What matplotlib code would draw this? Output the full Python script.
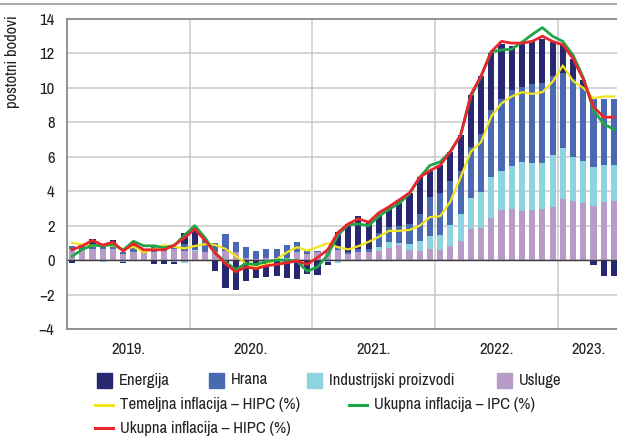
import numpy as np
import matplotlib
matplotlib.use('Agg')
import matplotlib.pyplot as plt
import matplotlib.font_manager as fm
from matplotlib.lines import Line2D
from matplotlib.patches import Rectangle

# pick a narrow font if one is installed
names = sorted({(f.name, f.stretch) for f in fm.fontManager.ttflist})
narrow = [n for n, s in names if 'Narrow' in n or 'Condensed' in n]
if narrow:
    plt.rcParams['font.family'] = [narrow[0], 'DejaVu Sans']
else:
    plt.rcParams['font.family'] = ['DejaVu Sans']
    plt.rcParams['font.stretch'] = 'condensed'

# Months Jan 2019 - Jun 2023
years = ['2019.', '2020.', '2021.', '2022.', '2023.']

# Contributions (percentage points)
usluge = [0.65, 0.6, 0.65, 0.65, 0.65, 0.35, 0.5, 0.4, 0.45, 0.55, 0.65, 0.55,
          0.55, 0.5, 0.5, 0.55, 0.45, 0.1, 0.05, 0.1, 0.1, 0.15, 0.45, 0.35,
          0.45, 0.4, 0.6, 0.35, 0.5, 0.5, 0.55, 0.7, 0.85, 0.6, 0.55, 0.65,
          0.6, 0.82, 1.1, 1.82, 1.85, 2.45, 2.92, 2.94, 2.88, 2.92, 2.94, 3.08,
          3.56, 3.45, 3.33, 3.13, 3.37, 3.44]
industrija = [0.0, -0.05, 0.0, -0.1, -0.05, -0.1, -0.05, 0.0, -0.05, 0.0, -0.1, -0.15,
              0.05, 0.0, 0.0, 0.0, 0.0, 0.0, 0.0, 0.0, 0.0, 0.0, 0.0, 0.0,
              0.0, -0.1, -0.15, 0.0, 0.0, 0.0, 0.2, 0.35, 0.15, 0.35, 0.55, 0.75,
              0.87, 1.2, 1.55, 1.8, 2.1, 2.4, 2.28, 2.5, 2.8, 2.7, 2.7, 3.0,
              2.96, 2.55, 2.4, 2.3, 2.15, 2.1]
hrana = [0.15, 0.2, 0.15, 0.2, 0.25, 0.15, 0.3, 0.15, 0.3, 0.2, 0.1, 0.4,
         0.3, 0.7, 0.5, 0.95, 0.6, 0.65, 0.5, 0.55, 0.55, 0.7, 0.6, 0.2,
         0.1, 0.1, 0.2, 0.15, 0.15, 0.15, 0.8, 0.85, 1.0, 1.15, 1.6, 2.25,
         2.45, 2.6, 2.55, 2.95, 3.4, 3.85, 4.15, 4.45, 4.4, 4.6, 4.65, 4.6,
         4.35, 4.5, 4.25, 3.9, 3.85, 3.8]
energija = [-0.15, 0.05, 0.45, 0.1, 0.25, -0.05, 0.05, 0.05, -0.2, -0.25, -0.1, 0.6,
            0.95, 0.05, -0.64, -1.64, -1.76, -1.2, -1.06, -1.0, -0.95, -1.05, -1.1, -0.8,
            -0.87, -0.2, 0.85, 1.6, 1.9, 1.6, 1.15, 1.2, 1.5, 1.8, 2.1, 1.55,
            1.6, 1.65, 2.05, 3.0, 3.35, 3.35, 3.2, 2.55, 2.5, 2.5, 2.55, 2.0,
            1.65, 1.2, 0.5, -0.3, -0.93, -0.93]

# Inflation rates (%)
temeljna_hipc = [1.0, 0.9, 0.83, 0.83, 0.85, 0.64, 0.77, 0.45, 0.64, 0.87, 0.77, 0.68,
                 0.82, 0.93, 0.88, 0.65, 0.25, -0.2, -0.4, -0.25, 0.05, 0.45, 0.75, 0.55,
                 0.75, 0.98, 0.75, 0.62, 0.81, 1.06, 1.35, 1.7, 1.7, 1.75, 2.0, 2.5,
                 2.55, 3.4, 4.8, 6.3, 6.85, 8.35, 9.1, 9.5, 9.75, 9.65, 9.75, 10.35,
                 11.3, 10.4, 10.0, 9.4, 9.5, 9.5]
ukupna_ipc = [0.22, 0.62, 0.87, 0.83, 0.92, 0.58, 1.1, 0.83, 0.83, 0.72, 0.85, 1.45,
              2.0, 1.3, 0.4, -0.1, -0.55, -0.2, -0.25, -0.08, 0.0, 0.0, -0.05, -0.65,
              -0.4, 0.3, 1.45, 2.05, 2.1, 2.0, 2.55, 2.95, 3.3, 3.85, 4.8, 5.5,
              5.7, 6.3, 7.25, 9.5, 10.65, 12.1, 12.2, 12.25, 12.65, 13.1, 13.5, 13.0,
              12.7, 11.9, 10.6, 8.7, 7.9, 7.6]
ukupna_hipc = [0.6, 0.83, 1.15, 0.87, 1.05, 0.52, 0.97, 0.6, 0.6, 0.6, 0.87, 1.3,
               1.8, 1.15, 0.4, -0.2, -0.68, -0.4, -0.5, -0.33, -0.25, -0.15, -0.05, -0.25,
               0.15, 0.6, 1.6, 2.1, 2.4, 2.2, 2.75, 3.1, 3.5, 3.9, 4.8, 5.2,
               5.5, 6.3, 7.25, 9.6, 10.7, 12.1, 12.7, 12.6, 12.6, 12.7, 13.0, 12.7,
               12.5, 11.7, 10.5, 8.9, 8.3, 8.3]

c_energ = '#27286f'
c_hrana = '#4a69b3'
c_ind = '#8dd3e0'
c_usl = '#b89bc8'
c_yel = '#f2e41c'
c_grn = '#20a548'
c_red = '#e8262b'
grid_c = '#c9c9c9'
fs = 12

W, H = 617, 437
fig = plt.figure(figsize=(W / 100, H / 100), dpi=100)
ax = fig.add_axes([67 / W, 1 - 329 / H, (617 - 67) / W, (329 - 19) / H])

x = np.arange(len(usluge)) + 0.5
pos = np.zeros(len(x))
neg = np.zeros(len(x))
for vals, col in [(usluge, c_usl), (industrija, c_ind), (hrana, c_hrana), (energija, c_energ)]:
    v = np.array(vals)
    b = np.where(v >= 0, pos, neg)
    ax.bar(x, v, bottom=b, width=0.6, color=col, linewidth=0, zorder=2)
    pos += np.clip(v, 0, None)
    neg += np.clip(v, None, 0)

ax.plot(x, temeljna_hipc, color=c_yel, lw=1.6, zorder=3)
ax.plot(x, ukupna_ipc, color=c_grn, lw=2.0, zorder=4)
ax.plot(x, ukupna_hipc, color=c_red, lw=2.0, zorder=5)

ax.axhline(0, color='#3a3a3a', lw=1.0, zorder=2.5)

ax.set_xlim(0, 53.8)
ax.set_ylim(-4, 14)
ax.set_yticks(np.arange(-4, 15, 2))
ax.set_xticks([12, 24, 36, 48])
ax.set_xticklabels([])
ax.set_xticks([6, 18, 30, 42, 51], minor=True)
ax.set_xticklabels(years, minor=True)
ax.tick_params(axis='both', which='both', length=0, labelsize=fs, colors='#222222')
ax.tick_params(axis='y', pad=9)
ax.tick_params(axis='x', which='minor', pad=9)
ax.grid(True, which='major', color=grid_c, lw=1.1, zorder=0)
ax.set_axisbelow(True)
for s in ['left', 'top', 'bottom']:
    ax.spines[s].set_color('#8a8a8a')
    ax.spines[s].set_linewidth(1.3)
ax.spines['right'].set_visible(False)

fig.text(12 / W, 1 - 15 / H, 'postotni bodovi', rotation=90, ha='center', va='top',
         fontsize=fs, color='#222222')
fig.add_artist(Line2D([0, 1], [1 - 4 / H, 1 - 4 / H], color='#9a9a9a', lw=1.2))

# Legend
row1 = 1 - 380 / H
for px, lab, col in [(97, 'Energija', c_energ), (209, 'Hrana', c_hrana),
                     (307, 'Industrijski proizvodi', c_ind), (497, 'Usluge', c_usl)]:
    fig.add_artist(Rectangle((px / W, row1 - 7.5 / H), 15 / W, 15 / H,
                             color=col, transform=fig.transFigure))
    fig.text((px + 22) / W, row1, lab, ha='left', va='center', fontsize=fs, color='#222222')

for px, py, lab, col in [(95, 405, 'Temeljna inflacija – HIPC (%)', c_yel),
                         (349, 405, 'Ukupna inflacija – IPC (%)', c_grn),
                         (95, 428, 'Ukupna inflacija – HIPC (%)', c_red)]:
    yy = 1 - py / H
    fig.add_artist(Line2D([px / W, (px + 18) / W], [yy, yy], color=col, lw=2.2))
    fig.text((px + 25) / W, yy, lab, ha='left', va='center', fontsize=fs, color='#222222')

fig.savefig('out.png', dpi=100)
